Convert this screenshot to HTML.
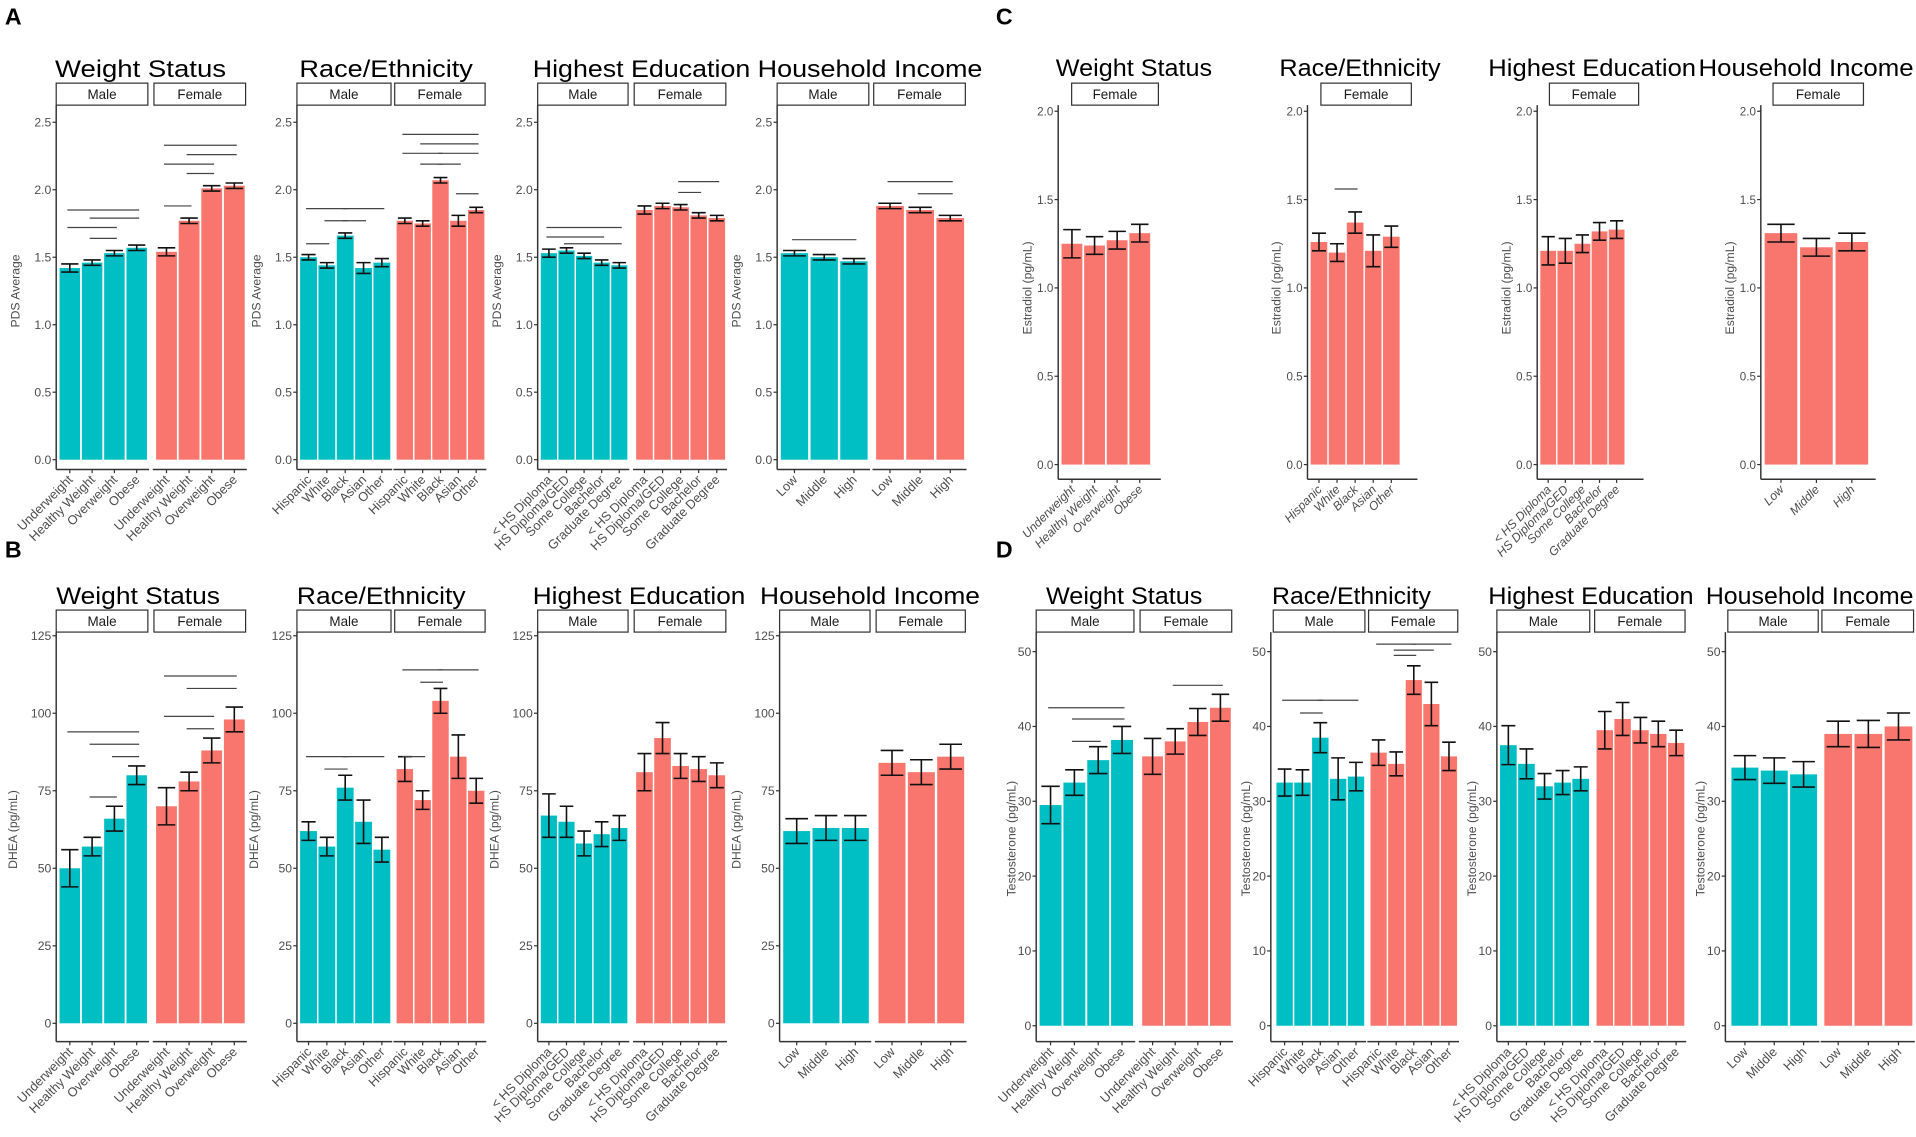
<!DOCTYPE html>
<html><head><meta charset="utf-8"><style>
html,body{margin:0;padding:0;background:#fff;width:1916px;height:1137px;overflow:hidden}
svg{display:block}
text{font-family:"Liberation Sans",Arial,sans-serif}
</style></head><body>
<svg id="fig" width="1916" height="1137" viewBox="0 0 1568 930" preserveAspectRatio="none" xmlns="http://www.w3.org/2000/svg"></svg>
<script>
// ---- categories ----
const weightCats=["Underweight","Healthy Weight","Overweight","Obese"];
const raceCats=["Hispanic","White","Black","Asian","Other"];
const eduCats=["< HS Diploma","HS Diploma/GED","Some College","Bachelor","Graduate Degree"];
const incCats=["Low","Middle","High"];
// ---- A: PDS average ----
const pdsWeightMale=[1.42,1.46,1.53,1.57], pdsWeightMaleErr=[0.03,0.02,0.02,0.02];
const pdsWeightFemale=[1.54,1.77,2.01,2.03], pdsWeightFemaleErr=[0.03,0.02,0.02,0.02];
const pdsRaceMale=[1.50,1.44,1.66,1.42,1.46], pdsRaceMaleErr=[0.02,0.02,0.02,0.04,0.03];
const pdsRaceFemale=[1.77,1.75,2.07,1.77,1.85], pdsRaceFemaleErr=[0.02,0.02,0.02,0.04,0.02];
const pdsEduMale=[1.53,1.55,1.51,1.46,1.44], pdsEduMaleErr=[0.03,0.02,0.02,0.02,0.02];
const pdsEduFemale=[1.85,1.88,1.87,1.81,1.79], pdsEduFemaleErr=[0.03,0.02,0.02,0.02,0.02];
const pdsIncMale=[1.53,1.50,1.47], pdsIncMaleErr=[0.02,0.02,0.02];
const pdsIncFemale=[1.88,1.85,1.79], pdsIncFemaleErr=[0.02,0.02,0.02];
// ---- B: DHEA ----
const dheaWeightMale=[50,57,66,80], dheaWeightMaleErr=[6,3,4,3];
const dheaWeightFemale=[70,78,88,98], dheaWeightFemaleErr=[6,3,4,4];
const dheaRaceMale=[62,57,76,65,56], dheaRaceMaleErr=[3,3,4,7,4];
const dheaRaceFemale=[82,72,104,86,75], dheaRaceFemaleErr=[4,3,4,7,4];
const dheaEduMale=[67,65,58,61,63], dheaEduMaleErr=[7,5,4,4,4];
const dheaEduFemale=[81,92,83,82,80], dheaEduFemaleErr=[6,5,4,4,4];
const dheaIncMale=[62,63,63], dheaIncMaleErr=[4,4,4];
const dheaIncFemale=[84,81,86], dheaIncFemaleErr=[4,4,4];
// ---- C: Estradiol ----
const e2Weight=[1.25,1.24,1.27,1.31], e2WeightErr=[0.08,0.05,0.05,0.05];
const e2Race=[1.26,1.20,1.37,1.21,1.29], e2RaceErr=[0.05,0.05,0.06,0.09,0.06];
const e2Edu=[1.21,1.21,1.25,1.32,1.33], e2EduErr=[0.08,0.07,0.05,0.05,0.05];
const e2Inc=[1.31,1.23,1.26], e2IncErr=[0.05,0.05,0.05];
// ---- D: Testosterone ----
const tWeightMale=[29.5,32.5,35.5,38.2], tWeightMaleErr=[2.5,1.7,1.8,1.8];
const tWeightFemale=[36,38,40.6,42.5], tWeightFemaleErr=[2.4,1.7,1.8,1.8];
const tRaceMale=[32.5,32.5,38.5,33,33.3], tRaceMaleErr=[1.8,1.7,2,2.8,1.9];
const tRaceFemale=[36.5,35,46.2,43,36], tRaceFemaleErr=[1.7,1.6,1.9,2.9,1.9];
const tEduMale=[37.5,35,32,32.5,33], tEduMaleErr=[2.6,2,1.7,1.6,1.6];
const tEduFemale=[39.5,41,39.5,39,37.8], tEduFemaleErr=[2.5,2.2,1.7,1.7,1.7];
const tIncMale=[34.5,34.1,33.6], tIncMaleErr=[1.6,1.7,1.7];
const tIncFemale=[39,39,40], tIncFemaleErr=[1.7,1.8,1.8];
// ---- significance brackets [from, to, value] ----
const sigPdsWeightMale=[[0,3,1.85],[1,3,1.79],[0,2,1.72],[1,2,1.64]];
const sigPdsWeightFemale=[[0,3,2.33],[1,3,2.26],[0,2,2.19],[1,2,2.12],[0,1,1.88]];
const sigPdsRaceMale=[[0,2,1.86],[2,4,1.86],[1,2,1.77],[2,3,1.77],[0,1,1.60]];
const sigPdsRaceFemale=[[0,4,2.41],[1,4,2.34],[0,2,2.27],[2,4,2.27],[1,2,2.19],[2,3,2.19],[3,4,1.97]];
const sigPdsEduMale=[[0,4,1.72],[0,3,1.65],[1,4,1.60]];
const sigPdsEduFemale=[[2,4,2.06],[2,3,1.98]];
const sigPdsIncMale=[[0,2,1.63]];
const sigPdsIncFemale=[[0,2,2.06],[1,2,1.97]];
const sigDheaWeightMale=[[0,3,94],[1,3,90],[2,3,86],[1,2,73]];
const sigDheaWeightFemale=[[0,3,112],[1,3,108],[0,2,99],[1,2,95]];
const sigDheaRaceMale=[[0,2,86],[2,4,86],[1,2,82]];
const sigDheaRaceFemale=[[0,2,114],[2,4,114],[1,2,110],[0,1,86]];
const sigE2Race=[[1,2,1.56]];
const sigTWeightMale=[[0,3,42.5],[1,3,41],[1,2,38]];
const sigTWeightFemale=[[1,3,45.5]];
const sigTRaceMale=[[0,2,43.5],[2,4,43.5],[1,2,41.8]];
const sigTRaceFemale=[[0,2,51],[2,4,51],[1,3,50.2],[1,2,49.5]];

const TEAL="#00BFC4", SALMON="#F8766D";
const svg=document.getElementById('fig');
const NS="http://www.w3.org/2000/svg";
function mk(tag,attrs,parent){const e=document.createElementNS(NS,tag);for(const k in attrs)e.setAttribute(k,attrs[k]);(parent||svg).appendChild(e);return e;}
function txt(s,attrs,parent){const e=mk('text',attrs,parent);e.textContent=s;return e;}

function panel(c){
  const g=mk('g',{});
  
  
  const yScale=v=>c.y0-v*(c.y0-c.yTopPx)/c.yTopVal;
  // title
  const t=txt(c.title,{x:c.titleX,y:c.titleY,'text-anchor':'middle','font-size':c.tfs||20,fill:'#000',textLength:c.tlen,lengthAdjust:'spacingAndGlyphs'},g);
  
  
  // y axis
  const ya=mk('line',{x1:c.ax,x2:c.ax,y1:c.stripY+18,y2:c.axisY,stroke:'#333','stroke-width':1.2},g);
  
  
  c.ticks.forEach((tv,i)=>{
    const y=yScale(tv);
    mk('line',{x1:c.ax-3,x2:c.ax,y1:y,y2:y,stroke:'#333','stroke-width':1},g);
    const tl=txt(c.tickLabels[i],{x:c.ax-4,y:y+3.5,'text-anchor':'end','font-size':c.tickFs||10,fill:'#4d4d4d'},g);
    
    
  });
  const midY=(c.y0+c.yTopPx)/2+c.ylabOff;
  const yl=txt(c.ylab,{x:0,y:0,'text-anchor':'middle','font-size':10,fill:'#4d4d4d',transform:`translate(${c.ax-c.ylabDx},${midY}) rotate(-90)`},g);
  
  
  c.groups.forEach((gr,gi)=>{
    const st=c.strips[gi];
    const sr=mk('rect',{x:st[0],y:c.stripY,width:st[1]-st[0],height:18,fill:'#fff',stroke:'#333','stroke-width':1},g);
    
    
    const sl=txt(gr.label,{x:(st[0]+st[1])/2,y:c.stripY+13,'text-anchor':'middle','font-size':11,fill:'#1a1a1a'},g);
    
    
    const n=gr.vals.length, step=(gr.x2-gr.x1)/n, bw=step*0.92;
    const cx=i=>gr.x1+step*(i+0.5);
    const bl=mk('line',{x1:gi===0?c.ax:gr.x1-2,x2:gr.axEnd||gr.x2+1,y1:c.axisY,y2:c.axisY,stroke:'#333','stroke-width':1.2},g);
    
    
    gr.vals.forEach((v,i)=>{
      const b=mk('rect',{x:cx(i)-bw/2,y:yScale(v),width:bw,height:c.y0-yScale(v),fill:gr.color},g);
      
      
      const e=gr.errs[i], hi=yScale(v+e), lo=yScale(v-e), hw=bw*0.42;
      const eb=mk('path',{d:`M${cx(i)-hw},${hi}H${cx(i)+hw}M${cx(i)},${hi}V${lo}M${cx(i)-hw},${lo}H${cx(i)+hw}`,stroke:'#111','stroke-width':1.3,fill:'none'},g);
      
      
      mk('line',{x1:cx(i),x2:cx(i),y1:c.axisY,y2:c.axisY+3,stroke:'#333','stroke-width':1},g);
      const xl=txt(gr.cats[i],{x:0,y:0,'text-anchor':'end','font-size':c.catFs||10.5,fill:'#4d4d4d','font-style':c.italic?'italic':'normal',transform:`translate(${cx(i)+3},${c.axisY+9}) rotate(-45)`},g);
      
      
    });
    (gr.sig||[]).forEach(s=>{
      const y=yScale(s[2]);
      const sl2=mk('line',{x1:cx(s[0])-2,x2:cx(s[1])+2,y1:y,y2:y,stroke:'#444','stroke-width':1},g);
      
      
    });
  });
}

const ticksA=[0,0.5,1,1.5,2,2.5], tickLabA=["0.0","0.5","1.0","1.5","2.0","2.5"];
const ticksB=[0,25,50,75,100,125], tickLabB=["0","25","50","75","100","125"];
const ticksC=[0,0.5,1,1.5,2], tickLabC=["0.0","0.5","1.0","1.5","2.0"];
const ticksD=[0,10,20,30,40,50], tickLabD=["0","10","20","30","40","50"];

function twoFacet(name,title,tx,tlen,ax,m,f,row,cats,mv,me,ms,fv,fe,fs){
  panel(Object.assign({name,title,titleX:tx,tlen,ax,strips:[m,f],
    groups:[{x1:m[0]+2,x2:m[1],label:'Male',cats,vals:mv,errs:me,sig:ms,color:TEAL},
            {x1:f[0]+1,x2:f[1],label:'Female',cats,vals:fv,errs:fe,sig:fs,color:SALMON}]},row));
}
const rowA={y0:376,yTopPx:100,yTopVal:2.5,ticks:ticksA,tickLabels:tickLabA,stripY:68,axisY:384,titleY:63,ylab:'PDS Average',ylabDx:30,ylabOff:0};
const rowB={y0:837,yTopPx:520,yTopVal:125,ticks:ticksB,tickLabels:tickLabB,stripY:499,axisY:852,titleY:494,ylab:'DHEA (pg/mL)',ylabDx:32,ylabOff:0};
const rowD={y0:839,yTopPx:533,yTopVal:50,ticks:ticksD,tickLabels:tickLabD,stripY:499,axisY:852,titleY:494,ylab:'Testosterone (pg/mL)',ylabDx:17,ylabOff:0,tfs:20};

twoFacet('panel-a-weight','Weight Status',115,140,46,[46,121],[126,201],rowA,weightCats,pdsWeightMale,pdsWeightMaleErr,sigPdsWeightMale,pdsWeightFemale,pdsWeightFemaleErr,sigPdsWeightFemale);
twoFacet('panel-a-race','Race/Ethnicity',316,142,243,[243,320],[323,397],rowA,raceCats,pdsRaceMale,pdsRaceMaleErr,sigPdsRaceMale,pdsRaceFemale,pdsRaceFemaleErr,sigPdsRaceFemale);
twoFacet('panel-a-education','Highest Education',525,178,440,[440,514],[519,594],rowA,eduCats,pdsEduMale,pdsEduMaleErr,sigPdsEduMale,pdsEduFemale,pdsEduFemaleErr,sigPdsEduFemale);
twoFacet('panel-a-income','Household Income',712,184,636,[636,711],[715,790],rowA,incCats,pdsIncMale,pdsIncMaleErr,sigPdsIncMale,pdsIncFemale,pdsIncFemaleErr,sigPdsIncFemale);

twoFacet('panel-b-weight','Weight Status',113,134,46,[46,121],[126,201],rowB,weightCats,dheaWeightMale,dheaWeightMaleErr,sigDheaWeightMale,dheaWeightFemale,dheaWeightFemaleErr,sigDheaWeightFemale);
twoFacet('panel-b-race','Race/Ethnicity',312,138,243,[243,320],[323,397],rowB,raceCats,dheaRaceMale,dheaRaceMaleErr,sigDheaRaceMale,dheaRaceFemale,dheaRaceFemaleErr,sigDheaRaceFemale);
twoFacet('panel-b-education','Highest Education',523,174,440,[440,514],[519,594],rowB,eduCats,dheaEduMale,dheaEduMaleErr,[],dheaEduFemale,dheaEduFemaleErr,[]);
twoFacet('panel-b-income','Household Income',712,180,638,[638,712],[717,790],rowB,incCats,dheaIncMale,dheaIncMaleErr,[],dheaIncFemale,dheaIncFemaleErr,[]);

twoFacet('panel-d-weight','Weight Status',920,128,848,[848,928],[933,1008],rowD,weightCats,tWeightMale,tWeightMaleErr,sigTWeightMale,tWeightFemale,tWeightFemaleErr,sigTWeightFemale);
twoFacet('panel-d-race','Race/Ethnicity',1106,130,1040,[1042,1117],[1120,1193],rowD,raceCats,tRaceMale,tRaceMaleErr,sigTRaceMale,tRaceFemale,tRaceFemaleErr,sigTRaceFemale);
twoFacet('panel-d-education','Highest Education',1302,168,1225,[1225,1301],[1305,1379],rowD,eduCats,tEduMale,tEduMaleErr,[],tEduFemale,tEduFemaleErr,[]);
twoFacet('panel-d-income','Household Income',1481,170,1412,[1414,1488],[1491,1566],rowD,incCats,tIncMale,tIncMaleErr,[],tIncFemale,tIncFemaleErr,[]);

function oneFacet(name,title,tx,tlen,ax,x1,x2,strip,axEnd,cats,vals,errs,sig){
  panel({name,title,titleX:tx,tlen,ax,strips:[strip],y0:380,yTopPx:91,yTopVal:2,ticks:ticksC,tickLabels:tickLabC,
    stripY:68,axisY:392,titleY:62,ylab:'Estradiol (pg/mL)',ylabDx:22,ylabOff:0,italic:true,catFs:10,tickFs:9.5,
    groups:[{x1,x2,axEnd,label:'Female',cats,vals,errs,sig,color:SALMON}]});
}
oneFacet('panel-c-weight','Weight Status',928,128,866,868,942,[877,948],950,weightCats,e2Weight,e2WeightErr,[]);
oneFacet('panel-c-race','Race/Ethnicity',1113,132,1070,1072,1146,[1081,1155],1160,raceCats,e2Race,e2RaceErr,sigE2Race);
oneFacet('panel-c-education','Highest Education',1303,170,1258,1260,1330,[1268,1341],1345,eduCats,e2Edu,e2EduErr,[]);
oneFacet('panel-c-income','Household Income',1478,176,1441,1443,1530,[1451,1525],1535,incCats,e2Inc,e2IncErr,[]);

[['A',4,20],['B',4,456],['C',815,20],['D',815,456]].forEach(p=>{
  const l=txt(p[0],{x:p[1],y:p[2],'font-size':19,'font-weight':'bold',fill:'#000'});
  
  
});
</script>
</body></html>
